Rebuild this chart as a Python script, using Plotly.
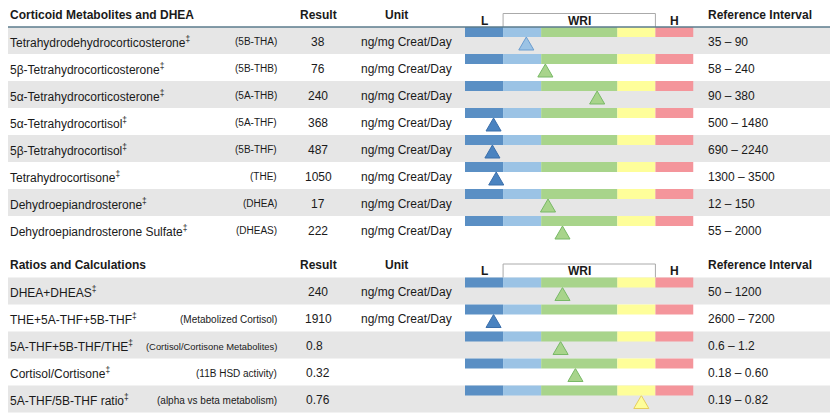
import plotly.graph_objects as go

# ---------------- data ----------------
sec1_title = "Corticoid Metabolites and DHEA"
sec1_names = ["Tetrahydrodehydrocorticosterone", "5β-Tetrahydrocorticosterone",
              "5α-Tetrahydrocorticosterone", "5α-Tetrahydrocortisol",
              "5β-Tetrahydrocortisol", "Tetrahydrocortisone",
              "Dehydroepiandrosterone", "Dehydroepiandrosterone Sulfate"]
sec1_codes = ["(5B-THA)", "(5B-THB)", "(5A-THB)", "(5A-THF)", "(5B-THF)",
              "(THE)", "(DHEA)", "(DHEAS)"]
sec1_results = ["38", "76", "240", "368", "487", "1050", "17", "222"]
sec1_units = ["ng/mg Creat/Day"] * 8
sec1_ranges = ["35 – 90", "58 – 240", "90 – 380", "500 – 1480", "690 – 2240",
               "1300 – 3500", "12 – 150", "55 – 2000"]
# marker position on the WRI scale (0..6)
sec1_wri = [1.61, 2.11, 3.47, 0.75, 0.72, 0.82, 2.18, 2.56]

sec2_title = "Ratios and Calculations"
sec2_names = ["DHEA+DHEAS", "THE+5A-THF+5B-THF", "5A-THF+5B-THF/THE",
              "Cortisol/Cortisone", "5A-THF/5B-THF ratio"]
sec2_codes = ["", "(Metabolized Cortisol)", "(Cortisol/Cortisone Metabolites)",
              "(11B HSD activity)", "(alpha vs beta metabolism)"]
sec2_results = ["240", "1910", "0.8", "0.32", "0.76"]
sec2_units = ["ng/mg Creat/Day", "ng/mg Creat/Day", "", "", ""]
sec2_ranges = ["50 – 1200", "2600 – 7200", "0.6 – 1.2", "0.18 – 0.60", "0.19 – 0.82"]
sec2_wri = [2.56, 0.75, 2.51, 2.90, 4.63]

seg_widths = [1, 1, 2, 1, 1]
seg_colors = ["#5a8fc4", "#9bc3e5", "#a8d48b", "#fefe9a", "#f4959b"]
tri_fill = ["#4a83c0", "#9bc3e5", "#a8d48b", "#fefe9a", "#f4959b"]
tri_line = ["#3b6fab", "#6b9dd0", "#78b966", "#e6cd5e", "#d87078"]
col_headers = ["Result", "Unit", "L", "WRI", "H", "Reference Interval"]

# ---------------- layout constants (screen pixels) ----------------
W, H = 838, 415
OFF = 8            # page body margin
ROW_H = 27
BAND_H = 10
TXT = "#1a1a1a"
FONT = "Arial"
FS = 12
X_LEFT = 8
X_NAME = 9
X_CODE = 278
X_RESULT = 318
X_UNIT = 360
X_REF = 707

fig = go.Figure()
shapes = []
annotations = []

def px(x):
    return (x - OFF) / W

def text(x, y, s, size=FS, bold=False, anchor="left"):
    annotations.append(dict(
        x=px(x), y=y, xref="paper", yref="y", text=("<b>%s</b>" % s) if bold else s,
        showarrow=False, xanchor=anchor, yanchor="middle", borderpad=0,
        font=dict(family=FONT, size=size, color=TXT)))

edges = [0]
for w in seg_widths:
    edges.append(edges[-1] + w)
L_END = edges[1]
H_START = edges[-2]
X_MAX = edges[-1]

def seg_index(p):
    for i in range(len(seg_widths)):
        if edges[i] <= p < edges[i + 1]:
            return i
    return len(seg_widths) - 1

def wri_label(x, y, s):
    annotations.append(dict(x=x, y=y, xref="x", yref="y", text="<b>%s</b>" % s,
                            showarrow=False, yanchor="middle", borderpad=0,
                            font=dict(family=FONT, size=FS, color=TXT)))

def section(top, title, names, codes, results, units, ranges, wri, line):
    hy = top - 12.5
    text(X_NAME, hy, title, bold=True)
    text(X_RESULT, hy, col_headers[0], bold=True, anchor="center")
    text(396, hy, col_headers[1], bold=True, anchor="center")
    text(X_REF, hy, col_headers[5], bold=True)
    lh = top - 6.5
    wri_label(L_END / 2, lh, col_headers[2])
    wri_label((L_END + H_START) / 2, lh, col_headers[3])
    wri_label((H_START + X_MAX) / 2, lh, col_headers[4])
    shapes.append(dict(type="path", xref="x", yref="y",
                       path="M %s,%s L %s,%s L %s,%s L %s,%s" % (
                           L_END, top, L_END, top - 13.5,
                           H_START, top - 13.5, H_START, top),
                       line=dict(color="#aaaaaa", width=1)))
    for i, nm in enumerate(names):
        rt = top + i * ROW_H
        if i % 2 == 0:
            shapes.append(dict(type="rect", xref="paper", yref="y", x0=px(X_LEFT), x1=1,
                               y0=rt, y1=rt + ROW_H, fillcolor="#e6e6e6",
                               line=dict(width=0), layer="below"))
        ty = rt + 14.5
        text(X_NAME, ty, nm + "<sup>‡</sup>")
        if codes[i]:
            csz = 10 if len(codes[i]) < 28 else 9.4
            text(X_CODE, ty, codes[i], size=csz, anchor="right")
        if "." in results[i]:
            text(305, ty, results[i])
        else:
            text(X_RESULT, ty, results[i], anchor="center")
        if units[i]:
            text(X_UNIT, ty, units[i])
        text(X_REF, ty, ranges[i])
        for k in range(len(seg_widths)):
            shapes.append(dict(type="rect", xref="x", yref="y", x0=edges[k], x1=edges[k + 1],
                               y0=rt, y1=rt + BAND_H, fillcolor=seg_colors[k],
                               line=dict(width=0)))
        p = wri[i]
        k = seg_index(p)
        hw = 0.198
        base = rt + 23
        apex = rt + BAND_H
        fig.add_trace(go.Scatter(
            x=[p - hw, p + hw, p, p - hw], y=[base, base, apex, base],
            mode="lines", fill="toself", fillcolor=tri_fill[k],
            line=dict(color=tri_line[k], width=1), hoverinfo="skip", showlegend=False))
    if line:
        shapes.append(dict(type="line", xref="paper", yref="y", x0=px(X_LEFT), x1=1,
                           y0=top, y1=top, line=dict(color="#5b7b8d", width=1.5)))

section(27, sec1_title, sec1_names, sec1_codes, sec1_results, sec1_units, sec1_ranges, sec1_wri, True)
section(277.5, sec2_title, sec2_names, sec2_codes, sec2_results, sec2_units, sec2_ranges, sec2_wri, False)

fig.update_layout(
    width=W, height=H, margin=dict(l=0, r=0, t=0, b=0),
    paper_bgcolor="white", plot_bgcolor="rgba(0,0,0,0)",
    xaxis=dict(domain=[px(465), px(693.5)], range=[0, X_MAX], visible=False, fixedrange=True),
    yaxis=dict(domain=[0, 1], range=[H + OFF, OFF], visible=False, fixedrange=True),
    shapes=shapes, annotations=annotations, showlegend=False,
)
fig.write_html("out.html")
